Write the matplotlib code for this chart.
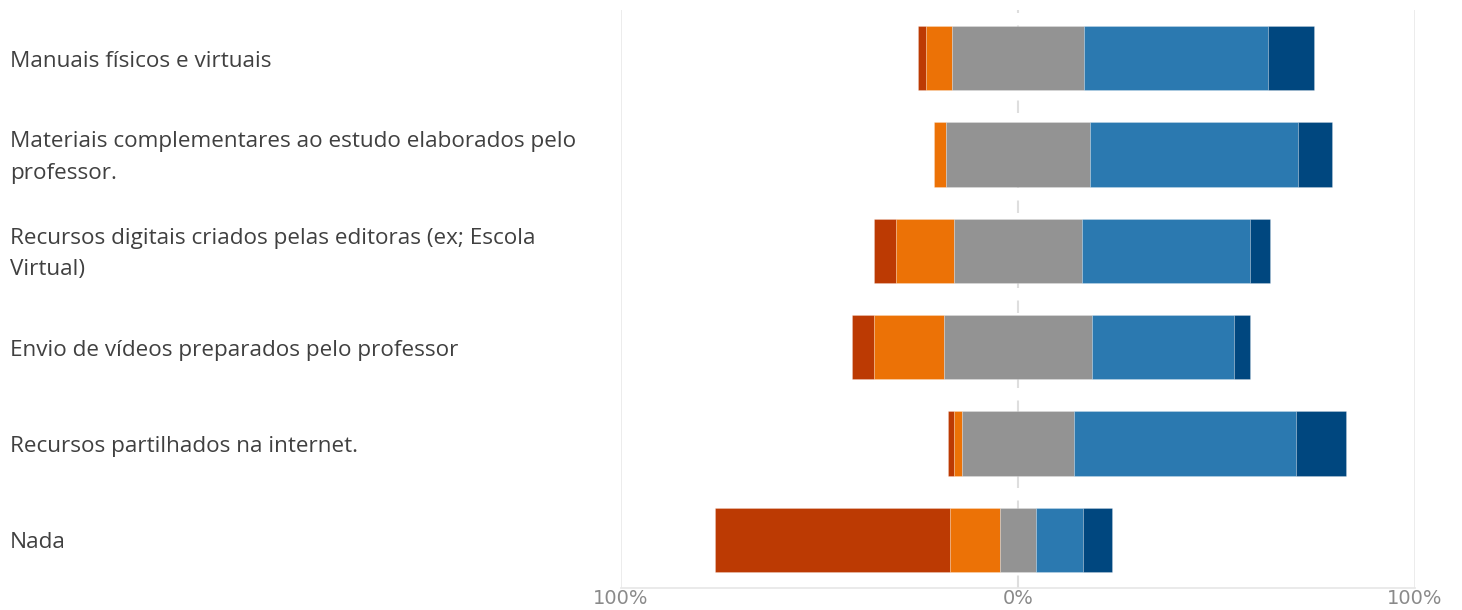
import numpy as np
import matplotlib
matplotlib.use("Agg")
import matplotlib.pyplot as plt
from matplotlib.transforms import blended_transform_factory

# categories, top to bottom
items = ["Manuais físicos e virtuais",
         "Materiais complementares ao estudo elaborados pelo\nprofessor.",
         "Recursos digitais criados pelas editoras (ex; Escola\nVirtual)",
         "Envio de vídeos preparados pelo professor",
         "Recursos partilhados na internet.",
         "Nada"]

# shares (%) per answer level, from most negative to most positive
lvl1 = [2.0, 0.0, 5.5, 5.5, 1.4, 59.1]
lvl2 = [6.6, 3.0, 14.7, 17.6, 2.1, 12.5]
lvl3 = [33.2, 36.2, 32.1, 37.3, 28.2, 9.2]   # neutral, centred on 0
lvl4 = [46.4, 52.4, 42.3, 35.8, 55.9, 11.7]
lvl5 = [11.6, 8.6, 5.2, 3.9, 12.6, 7.4]

tick_vals = [-100, 0, 100]
tick_txt = ["100%", "0%", "100%"]

colors = ["#bc3a03", "#ec7206", "#939393", "#2b79b0", "#00477f"]

levels = np.array([lvl1, lvl2, lvl3, lvl4, lvl5])
y = np.arange(len(items))
start = -(levels[0] + levels[1] + levels[2] / 2)

fig = plt.figure(figsize=(14.62, 6.10), dpi=100)
ax = fig.add_axes([621/1462, 1 - 588/610, (1415 - 621)/1462, (588 - 10)/610])

left = start.copy()
for vals, col in zip(levels, colors):
    ax.barh(y, vals, left=left, height=0.665, color=col,
            edgecolor=(1, 1, 1, 0.25), linewidth=0.6, zorder=3)
    left = left + vals

ax.set_xlim(-100, 100)
ax.set_ylim(len(items) - 0.5, -0.5)

ax.axvline(-100, color="#ebebeb", lw=1.3, zorder=1)
ax.axvline(100, color="#ebebeb", lw=1.3, zorder=1)
ax.axvline(0, color="#dedede", lw=1.5, ls=(0, (6, 6)), zorder=1)

for s in ["top", "left", "right"]:
    ax.spines[s].set_visible(False)
ax.spines["bottom"].set_color("#e6e6e6")
ax.spines["bottom"].set_linewidth(1.2)

ax.set_yticks([])
ax.set_xticks(tick_vals)
ax.set_xticklabels(tick_txt, color="#8a8a8a", fontsize=14)
ax.tick_params(axis="x", length=0, pad=1)

trans = blended_transform_factory(fig.transFigure, ax.transData)
for yi, name in zip(y, items):
    ax.text(10/1462, yi + 0.03, name, transform=trans, ha="left", va="center",
            fontsize=16.2, family="Open Sans", color="#404040",
            linespacing=1.65)

fig.savefig("out.png", dpi=100)
